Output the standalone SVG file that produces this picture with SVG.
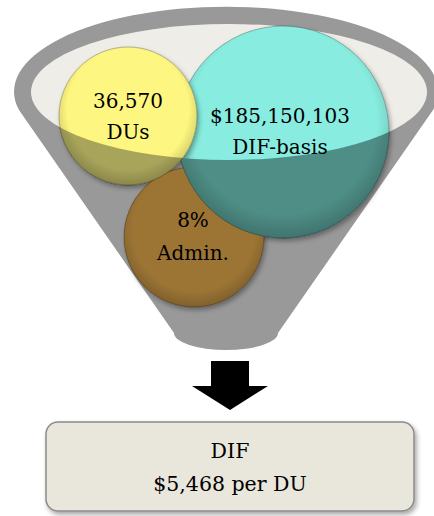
<svg xmlns="http://www.w3.org/2000/svg" width="434" height="516" viewBox="0 0 434 516">
<defs>
<style>
.t{font-family:"DejaVu Serif","Liberation Serif",serif;font-size:20px;fill:#000;text-anchor:middle}
.bt{font-family:"DejaVu Serif","Liberation Serif",serif;font-size:20.5px;fill:#000;text-anchor:middle}
.rim{fill:url(#shade);stroke:#000;stroke-opacity:0.25;stroke-width:1}
</style>
<radialGradient id="shade" cx="0.5" cy="0.45" r="0.55">
<stop offset="0.8" stop-color="#000" stop-opacity="0"/>
<stop offset="1" stop-color="#000" stop-opacity="0.18"/>
</radialGradient>
<filter id="ds" x="-20%" y="-20%" width="140%" height="140%">
<feDropShadow dx="2" dy="3" stdDeviation="2.5" flood-color="#000" flood-opacity="0.35"/>
</filter>
<clipPath id="front">
<path d="M0,92 L31,92 A198,68 0 0 0 427,92 L434,92 L434,516 L0,516 Z"/>
</clipPath>
</defs>

<g id="funnel">
<path d="M19,110 A212,85 0 1 1 433,110 L278,333 A52,17 0 0 1 174,333 Z" fill="#999999"/>
<ellipse cx="229" cy="92" rx="198" ry="68" fill="#eeede8"/>
</g>

<g id="circles-back">
<circle cx="194" cy="237" r="70" fill="#9c7535" filter="url(#ds)"/>
<circle cx="283" cy="132" r="106" fill="#88ede0" filter="url(#ds)"/>
<circle cx="283" cy="132" r="106" class="rim"/>
<circle cx="128" cy="116" r="69" fill="#fdf680" filter="url(#ds)"/>
<circle cx="128" cy="116" r="69" class="rim"/>
</g>

<g id="circles-front" clip-path="url(#front)">
<circle cx="194" cy="237" r="70" fill="#9c7535"/>
<circle cx="194" cy="237" r="70" class="rim"/>
<circle cx="283" cy="132" r="106" fill="#4e8e86"/>
<circle cx="283" cy="132" r="106" class="rim"/>
<circle cx="128" cy="116" r="69" fill="#a8a45a"/>
<circle cx="128" cy="116" r="69" class="rim"/>
</g>

<g id="node-admin">
<text class="t" x="193" y="227">8%</text>
<text class="t" x="193" y="260">Admin.</text>
</g>
<g id="node-basis">
<text class="t" x="280" y="123">$185,150,103</text>
<text class="t" x="280" y="154">DIF-basis</text>
</g>
<g id="node-dus">
<text class="t" x="128" y="108">36,570</text>
<text class="t" x="128" y="139">DUs</text>
</g>

<g id="connectors">
<polygon points="211,361 249,361 249,386 268,386 230,410 192,386 211,386" fill="#000"/>
</g>

<g id="node-result">
<rect x="46" y="422" width="368" height="89" rx="12" fill="#e9e6db" stroke="#8a8a8a" stroke-width="1.5" filter="url(#ds)"/>
<text class="bt" x="230" y="458">DIF</text>
<text class="bt" x="230" y="491">$5,468 per DU</text>
</g>
</svg>
